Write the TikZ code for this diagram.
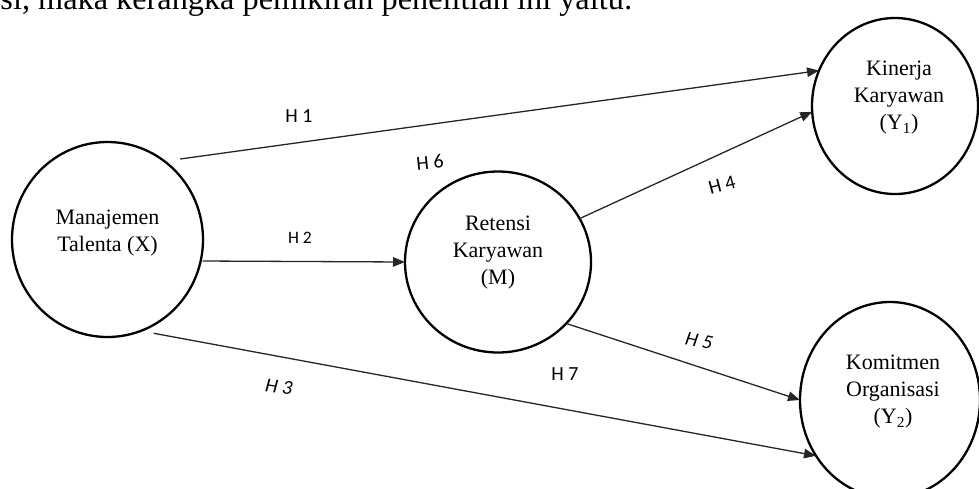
\documentclass[tikz,border=0pt]{standalone}
\usepackage{fontspec}
\setmainfont{Liberation Serif}
\newfontfamily\lblfont{Carlito}
\usetikzlibrary{shapes.geometric,arrows.meta}
\begin{document}
\begin{tikzpicture}[x=1pt,y=-1pt,
  var/.style={ellipse,draw=black,line width=2.3pt,inner sep=0pt,outer sep=0pt},
  vtext/.style={align=center,font=\fontsize{22}{27}\selectfont,inner sep=0pt},
  link/.style={draw=black!85,line width=1.3pt,-{Triangle[length=12pt,width=9.5pt]}},
  hyp/.style={font=\lblfont\fontsize{20}{20}\selectfont,inner sep=0pt},
  hypsmall/.style={font=\lblfont\fontsize{17.5}{17.5}\selectfont,inner sep=0pt}]
\useasboundingbox (0,0) rectangle (979,488);
% partial caption line at top
\node[anchor=base east,inner sep=0pt,font=\fontsize{32.3}{36}\selectfont] (cap) at (633,9) {si, maka kerangka pemikiran penelitian ini yaitu:};
% variables
\node[var,minimum width=191pt,minimum height=195pt] (m) at (107.5,239.5) {};
\node[var,minimum width=186pt,minimum height=181pt] (r) at (498,262) {};
\node[var,minimum width=166pt,minimum height=176pt] (k) at (895,106) {};
\node[var,minimum width=180pt,minimum height=196pt] (o) at (890,400) {};
\node[vtext] (mt) at ([yshift=6pt]m.center) {Manajemen\\Talenta (X)};
\node[vtext] (rt) at ([yshift=9pt]r.center) {Retensi\\Karyawan\\(M)};
\node[vtext] (kt) at ([xshift=4pt,yshift=8pt]k.center) {Kinerja\\Karyawan\\(Y\textsubscript{1})};
\node[vtext] (ot) at ([xshift=3pt,yshift=8pt]o.center) {Komitmen\\Organisasi\\(Y\textsubscript{2})};
% connectors
\draw[link,shorten <=16pt] (m.54) -- (k.155);
\draw[link,shorten <=2pt] (m.-13.6) -- (r.180);
\draw[link,shorten <=13pt] (m.-70) -- (o.217);
\draw[link] (r.28.5) -- (k.184);
\draw[link] (r.-42.6) -- (o.180);
% hypothesis labels
\node[hyp] (h1) at (299,116) {H 1};
\node[hyp,rotate=6] (h6) at (430,162) {H 6};
\node[hypsmall] (h2) at (300,238) {H 2};
\node[hyp,rotate=15] (h4) at (722,185) {H 4};
\node[hyp,rotate=-12] (h5) at (699,341) {\itshape H 5};
\node[hyp] (h7) at (565,374) {H 7};
\node[hyp,rotate=-8] (h3) at (279,387) {\itshape H 3};
\end{tikzpicture}
\end{document}
